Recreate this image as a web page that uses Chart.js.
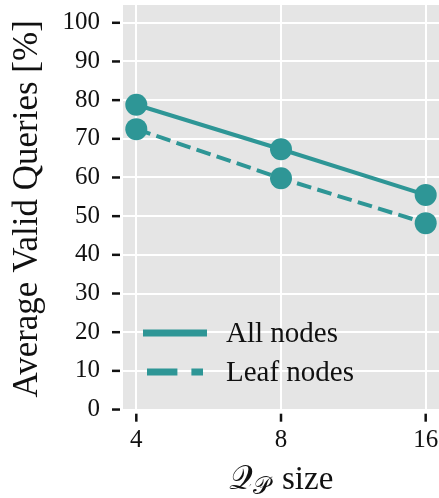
<!DOCTYPE html>
<html>
<head>
<meta charset="utf-8">
<script src="https://cdn.jsdelivr.net/npm/chart.js@4"></script>
<style>
  html, body { margin: 0; padding: 0; background: #fff; }
  #wrap { width: 439px; height: 498px; }
</style>
</head>
<body>
<div id="wrap"><canvas id="validChart" width="439" height="498"></canvas></div>
<script>
// data
const sizes = [4, 8, 16];
const allNodes = [78.8, 67.3, 55.5];
const leafNodes = [72.5, 59.8, 48.2];
const yTicks = [0, 10, 20, 30, 40, 50, 60, 70, 80, 90, 100];
const seriesNames = ['All nodes', 'Leaf nodes'];

const teal = 'rgb(46,150,150)';
const serif = '"Liberation Serif", "DejaVu Serif", serif';

// gray panel behind the plot
const panelBg = {
    id: 'panelBg',
    beforeDraw(chart) {
        const a = chart.chartArea, c = chart.ctx;
        c.save();
        c.fillStyle = '#e5e5e5';
        c.fillRect(a.left, a.top, a.right - a.left, a.bottom - a.top);
        c.restore();
    }
};

// black tick marks with a small gap from the panel, titles and legend
const decor = {
    id: 'decor',
    afterDraw(chart) {
        const a = chart.chartArea, c = chart.ctx;
        const xs = chart.scales.x, ys = chart.scales.y;
        c.save();
        c.strokeStyle = '#111';
        c.lineWidth = 2.5;
        ys.ticks.forEach(t => {
            const p = ys.getPixelForValue(t.value);
            c.beginPath();
            c.moveTo(a.left - 11, p);
            c.lineTo(a.left - 3, p);
            c.stroke();
        });
        xs.ticks.forEach(t => {
            const p = xs.getPixelForValue(t.value);
            c.beginPath();
            c.moveTo(p, a.bottom + 3);
            c.lineTo(p, a.bottom + 11);
            c.stroke();
        });

        // y title
        c.fillStyle = '#111';
        c.font = '35px ' + serif;
        c.textAlign = 'center';
        c.textBaseline = 'middle';
        c.translate(28, (a.top + a.bottom) / 2 + 1);
        c.rotate(-Math.PI / 2);
        c.fillText('Average Valid Queries [%]', 0, 0);
        c.setTransform(1, 0, 0, 1, 0, 0);

        // x title with subscript
        const cx = (a.left + a.right) / 2;
        const base = 489;
        c.textBaseline = 'alphabetic';
        c.textAlign = 'left';
        const q = '\u{1D4AC}', p = '\u{1D4AB}', rest = ' size';
        c.font = '33px ' + serif;
        const wq = c.measureText(q).width;
        const wr = c.measureText(rest).width;
        c.font = '24px ' + serif;
        const wp = c.measureText(p).width + 4;
        const x0 = cx - (wq + wp + wr) / 2;
        c.font = '33px ' + serif;
        c.fillText(q, x0, base);
        c.fillText(rest, x0 + wq + wp, base);
        c.font = '24px ' + serif;
        c.fillText(p, x0 + wq, base + 5);

        // legend inside the panel
        const rows = [{ y: 333, dash: [] }, { y: 372, dash: [30.4, 14] }];
        c.font = '29px ' + serif;
        c.textBaseline = 'middle';
        rows.forEach((r, i) => {
            c.strokeStyle = teal;
            c.lineWidth = 7;
            c.setLineDash(r.dash);
            c.beginPath();
            if (r.dash.length) {
                c.moveTo(a.left + 24, r.y);
                c.lineTo(a.left + 80, r.y);
            } else {
                c.moveTo(a.left + 20, r.y);
                c.lineTo(a.left + 84, r.y);
            }
            c.stroke();
            c.setLineDash([]);
            c.fillStyle = '#111';
            c.fillText(seriesNames[i], a.left + 103, r.y + 1);
        });
        c.restore();
    }
};

function noPad(s) {
    s.paddingTop = 0;
    s.paddingBottom = 0;
    s.paddingLeft = 0;
    s.paddingRight = 0;
}

const ctx = document.getElementById('validChart');
new Chart(ctx, {
    type: 'line',
    data: {
        datasets: [{
            label: seriesNames[0],
            data: sizes.map((s, i) => ({ x: s, y: allNodes[i] })),
            borderColor: teal,
            backgroundColor: teal,
            borderWidth: 4,
            pointRadius: 11,
            pointBorderWidth: 0,
            pointBackgroundColor: teal,
            clip: false
        }, {
            label: seriesNames[1],
            data: sizes.map((s, i) => ({ x: s, y: leafNodes[i] })),
            borderColor: teal,
            backgroundColor: teal,
            borderWidth: 4,
            borderDash: [14.8, 6.4],
            pointRadius: 11,
            pointBorderWidth: 0,
            pointBackgroundColor: teal,
            clip: false
        }]
    },
    options: {
        responsive: false,
        animation: false,
        layout: { autoPadding: false, padding: { top: 5, right: 0, bottom: 0, left: 0 } },
        plugins: {
            legend: { display: false },
            tooltip: { enabled: false }
        },
        scales: {
            x: {
                type: 'logarithmic',
                min: 4 / Math.pow(2, 0.092),
                max: 16 * Math.pow(2, 0.092),
                afterBuildTicks: s => { s.ticks = sizes.map(v => ({ value: v })); },
                afterFit: s => { s.height = 87.3; noPad(s); },
                border: { display: false },
                grid: { color: '#fff', lineWidth: 2, drawTicks: false },
                ticks: {
                    color: '#111',
                    font: { family: serif, size: 25 },
                    padding: 15,
                    maxRotation: 0,
                    autoSkip: false,
                    callback: v => String(v)
                }
            },
            y: {
                min: -0.3,
                max: 104.6,
                afterBuildTicks: s => { s.ticks = yTicks.map(v => ({ value: v })); },
                afterFit: s => { s.width = 123; noPad(s); },
                border: { display: false },
                grid: { color: '#fff', lineWidth: 2, drawTicks: false },
                ticks: {
                    color: '#111',
                    font: { family: serif, size: 25 },
                    padding: 23
                }
            }
        }
    },
    plugins: [panelBg, decor]
});
</script>
</body>
</html>
